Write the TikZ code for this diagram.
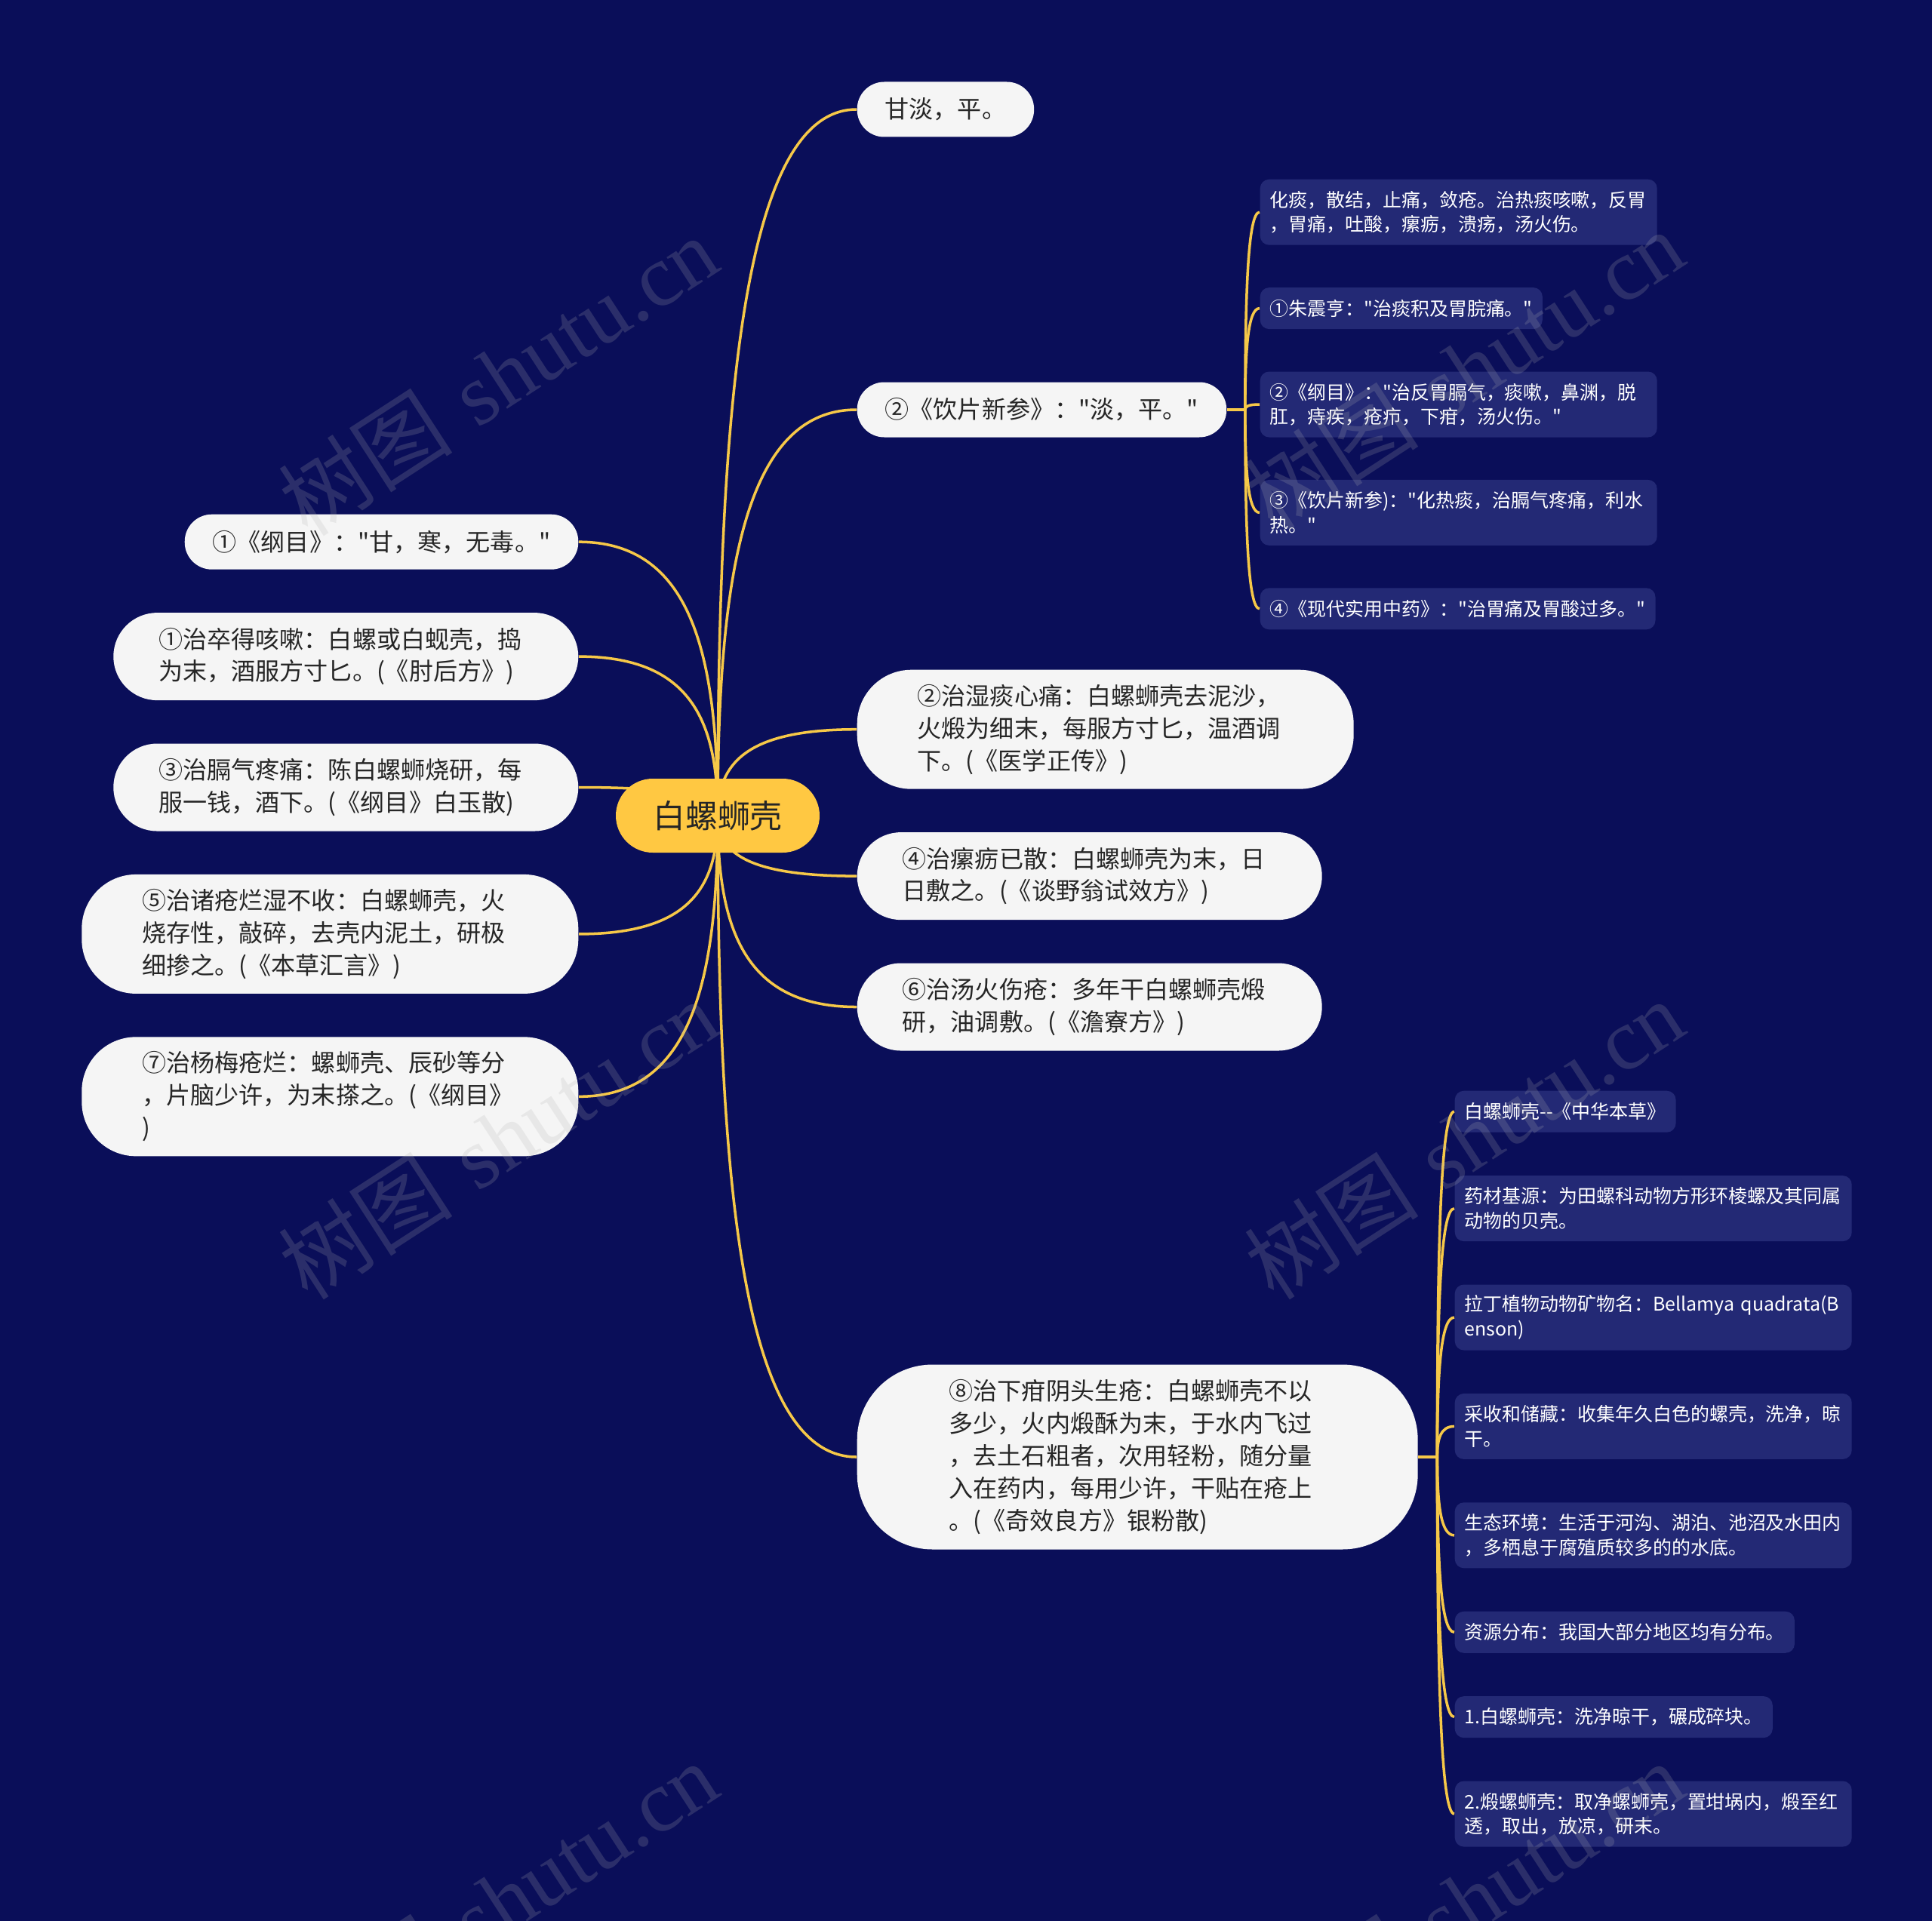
\documentclass[tikz,border=0pt]{standalone}
\usepackage{fontspec}
\newfontfamily\cjk{Noto Sans CJK SC}
\newfontfamily\wmserif{Liberation Serif}
\usetikzlibrary{positioning,calc,backgrounds}
\definecolor{mmnavy}{RGB}{10,14,89}
\definecolor{mmslate}{RGB}{35,41,117}
\definecolor{mmpaper}{RGB}{245,245,245}
\definecolor{mmgold}{RGB}{255,200,66}
\definecolor{mmwire}{RGB}{246,200,72}
\definecolor{mmink}{RGB}{38,38,38}
\tikzset{
  mmroot/.style={
    rectangle, rounded corners=0.49cm, fill=mmgold, text=mmink,
    minimum width=2.7cm, minimum height=0.98cm, inner sep=0pt,
    font=\cjk\fontsize{12.2}{14}\selectfont
  },
  mmleafone/.style={
    rectangle, rounded corners=0.36cm, fill=mmpaper, text=mmink,
    minimum height=0.73cm, inner xsep=0.37cm, inner ysep=0pt,
    font=\cjk\fontsize{9.13}{12.2}\selectfont
  },
  mmleaf/.style={mmleafone, rounded corners=0.58cm, inner xsep=0.6cm,
    minimum height=1.16cm, text width=4.96cm, align=left},
  mmleafthree/.style={mmleaf, rounded corners=0.72cm, inner xsep=0.8cm,
    minimum height=1.58cm, text width=4.98cm},
  mmleaffive/.style={mmleaf, rounded corners=1cm, inner xsep=1.22cm,
    minimum height=2.45cm, text width=4.99cm},
  mmsub/.style={
    rectangle, rounded corners=0.12cm, fill=mmslate, text=white,
    minimum height=0.55cm, inner xsep=0.13cm, inner ysep=0pt,
    font=\cjk\fontsize{7.1}{9.2}\selectfont
  },
  mmsubtwo/.style={mmsub, minimum height=0.87cm, text width=5cm, align=left},
  mmline/.style={draw=mmwire, line width=1pt,
    to path={.. controls ($(\tikztostart)!0.6!(\tikztostart |- \tikztotarget)$)
      and ($(\tikztostart |- \tikztotarget)!0.2!(\tikztotarget)$) .. (\tikztotarget)}},
  mmmark/.style={rotate=33, text=gray!60, text opacity=0.2,
    font=\fontsize{33}{33}\selectfont, inner sep=0pt},
}
\begin{document}
\begin{tikzpicture}
  \useasboundingbox (0,0) rectangle (25.6,-25.46);
  \node[mmroot] (ctr) at (9.51,-10.81) {白螺蛳壳};

  \node[mmleafone, anchor=west] (gd) at (11.35,-1.45) {甘淡，平。};
  \node[mmleafone, anchor=west] (yp) at (11.35,-5.43) {②《饮片新参》："淡，平。"};
  \node[mmleafthree, anchor=north west] (sht) at (11.35,-8.87)
    {②治湿痰心痛：白螺蛳壳去泥沙，\\火煅为细末，每服方寸匕，温酒调\\下。(《医学正传》)};
  \node[mmleaf, below=0.56cm of sht.south west, anchor=north west] (ll)
    {④治瘰疬已散：白螺蛳壳为末，日\\日敷之。(《谈野翁试效方》)};
  \node[mmleaf, below=0.56cm of ll.south west, anchor=north west] (thu)
    {⑥治汤火伤疮：多年干白螺蛳壳煅\\研，油调敷。(《澹寮方》)};
  \node[mmleaffive, anchor=west] (xg) at (11.35,-19.31)
    {⑧治下疳阴头生疮：白螺蛳壳不以\\多少，火内煅酥为末，于水内飞过\\，去土石粗者，次用轻粉，随分量\\入在药内，每用少许，干贴在疮上\\。(《奇效良方》银粉散)};

  \node[mmleafone, anchor=north east] (gm) at (7.67,-6.81) {①《纲目》："甘，寒，无毒。"};
  \node[mmleaf, below=0.56cm of gm.south east, anchor=north east] (zd)
    {①治卒得咳嗽：白螺或白蚬壳，捣\\为末，酒服方寸匕。(《肘后方》)};
  \node[mmleaf, below=0.56cm of zd.south east, anchor=north east] (gq)
    {③治膈气疼痛：陈白螺蛳烧研，每\\服一钱，酒下。(《纲目》白玉散)};
  \node[mmleafthree, below=0.56cm of gq.south east, anchor=north east] (zc)
    {⑤治诸疮烂湿不收：白螺蛳壳，火\\烧存性，敲碎，去壳内泥土，研极\\细掺之。(《本草汇言》)};
  \node[mmleafthree, below=0.56cm of zc.south east, anchor=north east] (ym)
    {⑦治杨梅疮烂：螺蛳壳、辰砂等分\\，片脑少许，为末搽之。(《纲目》\\)};

  \coordinate (jyp) at ($(yp.east)+(0.24,0)$);
  \node[mmsubtwo, anchor=north west] (yp1) at (16.69,-2.37)
    {化痰，散结，止痛，敛疮。治热痰咳嗽，反胃\\，胃痛，吐酸，瘰疬，溃疡，汤火伤。};
  \node[mmsub, below=0.55cm of yp1.south west, anchor=north west] (yp2)
    {①朱震亨："治痰积及胃脘痛。"};
  \node[mmsubtwo, below=0.55cm of yp2.south west, anchor=north west] (yp3)
    {②《纲目》："治反胃膈气，痰嗽，鼻渊，脱\\肛，痔疾，疮疖，下疳，汤火伤。"};
  \node[mmsubtwo, below=0.55cm of yp3.south west, anchor=north west] (yp4)
    {③《饮片新参)："化热痰，治膈气疼痛，利水\\热。"};
  \node[mmsub, below=0.55cm of yp4.south west, anchor=north west] (yp5)
    {④《现代实用中药》："治胃痛及胃酸过多。"};

  \coordinate (jxg) at ($(xg.east)+(0.25,0)$);
  \node[mmsub, anchor=north west] (xg1) at (19.27,-14.45) {白螺蛳壳--《中华本草》};
  \node[mmsubtwo, below=0.56cm of xg1.south west, anchor=north west] (xg2)
    {药材基源：为田螺科动物方形环棱螺及其同属\\动物的贝壳。};
  \node[mmsubtwo, below=0.56cm of xg2.south west, anchor=north west] (xg3)
    {拉丁植物动物矿物名：Bellamya~quadrata(B\\enson)};
  \node[mmsubtwo, below=0.56cm of xg3.south west, anchor=north west] (xg4)
    {采收和储藏：收集年久白色的螺壳，洗净，晾\\干。};
  \node[mmsubtwo, below=0.56cm of xg4.south west, anchor=north west] (xg5)
    {生态环境：生活于河沟、湖泊、池沼及水田内\\，多栖息于腐殖质较多的的水底。};
  \node[mmsub, below=0.56cm of xg5.south west, anchor=north west] (xg6)
    {资源分布：我国大部分地区均有分布。};
  \node[mmsub, below=0.56cm of xg6.south west, anchor=north west] (xg7)
    {1.白螺蛳壳：洗净晾干，碾成碎块。};
  \node[mmsubtwo, below=0.56cm of xg7.south west, anchor=north west] (xg8)
    {2.煅螺蛳壳：取净螺蛳壳，置坩埚内，煅至红\\透，取出，放凉，研末。};

  \begin{scope}[on background layer]
    \fill[mmnavy] (0,0) rectangle (25.6,-25.46);
    \foreach \n in {gd,yp,sht,ll,thu,xg} \draw[mmline] (ctr.center) to (\n.west);
    \foreach \n in {gm,zd,gq,zc,ym} \draw[mmline] (ctr.center) to (\n.east);
    \draw[mmline] (yp.east) -- (jyp);
    \foreach \i in {1,...,5} \draw[mmline] (jyp) to (yp\i.west);
    \draw[mmline] (xg.east) -- (jxg);
    \foreach \i in {1,...,8} \draw[mmline] (jxg) to (xg\i.west);
  \end{scope}

  \node[mmmark] (wm1) at (6.6,-4.98) {{\cjk 树图} {\wmserif shutu.cn}};
  \node[mmmark] (wm2) at (19.4,-4.9) {{\cjk 树图} {\wmserif shutu.cn}};
  \node[mmmark] (wm3) at (6.6,-15.1) {{\cjk 树图} {\wmserif shutu.cn}};
  \node[mmmark] (wm4) at (19.4,-15.1) {{\cjk 树图} {\wmserif shutu.cn}};
  \node[mmmark] (wm5) at (6.6,-25.2) {{\cjk 树图} {\wmserif shutu.cn}};
  \node[mmmark] (wm6) at (19.4,-25.2) {{\cjk 树图} {\wmserif shutu.cn}};
\end{tikzpicture}
\end{document}
